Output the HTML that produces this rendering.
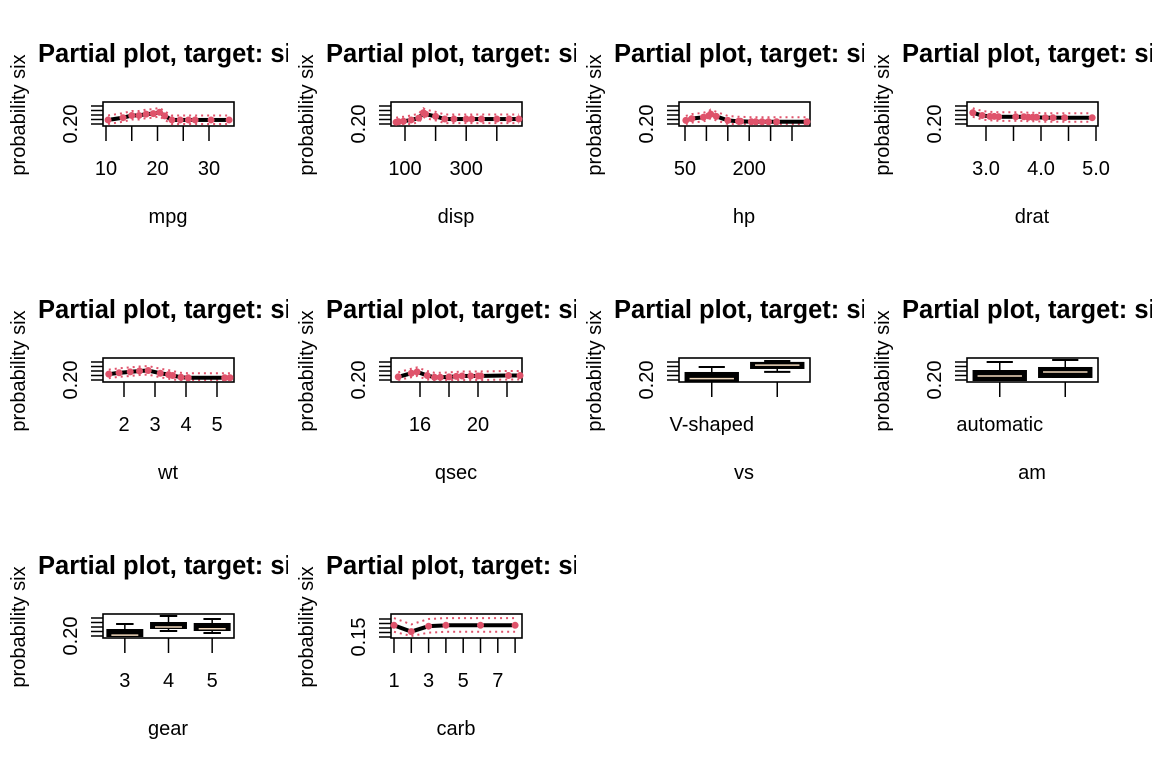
<!DOCTYPE html>
<html><head><meta charset="utf-8"><style>
html,body{margin:0;padding:0;background:#fff;}
svg{display:block;font-family:"Liberation Sans",sans-serif;}
</style></head><body>
<svg id="chart" width="1152" height="768" viewBox="0 0 1152 768"></svg>
<script>
// ---------- data ----------
const mpgX=[10.4,13.3,15,16.4,17.8,19.2,20.4,21.4,22.8,24.4,26,27.3,30.4,33.9];
const mpgY=[0.209,0.214,0.219,0.219,0.222,0.223,0.226,0.218,0.209,0.209,0.209,0.209,0.209,0.209];
const mpgTicks=[10,15,20,25,30];
const mpgLabels=["10","","20","","30"];
const dispX=[71,79,95,120,145,160,167,200,230,260,300,318,350,400,440,472];
const dispY=[0.204,0.205,0.206,0.209,0.213,0.225,0.222,0.217,0.211,0.211,0.211,0.211,0.211,0.211,0.211,0.211];
const dispTicks=[100,200,300,400];
const dispLabels=["100","","300",""];
const hpX=[52,66,93,105,110,123,150,175,180,205,215,230,245,264,335];
const hpY=[0.208,0.212,0.215,0.218,0.222,0.217,0.208,0.206,0.206,0.205,0.205,0.205,0.205,0.205,0.205];
const hpTicks=[50,100,150,200,250,300];
const hpLabels=["50","","","200","",""];
const dratX=[2.76,2.93,3.07,3.15,3.23,3.54,3.69,3.77,3.85,3.92,4.08,4.22,4.43,4.93];
const dratY=[0.225,0.219,0.217,0.217,0.216,0.216,0.216,0.215,0.215,0.215,0.214,0.214,0.214,0.214];
const dratTicks=[3.0,3.5,4.0,4.5,5.0];
const dratLabels=["3.0","","4.0","","5.0"];
const wtX=[1.51,1.84,2.2,2.5,2.78,3.17,3.44,3.57,3.84,4.07,5.25,5.42];
const wtY=[0.213,0.216,0.218,0.22,0.221,0.215,0.212,0.21,0.206,0.205,0.205,0.205];
const wtTicks=[2,3,4,5];
const wtLabels=["2","3","4","5"];
const qsecX=[14.5,15.4,15.8,16.5,17,17.4,18,18.5,18.9,19.5,20,20.2,22.1,22.9];
const qsecY=[0.207,0.215,0.218,0.21,0.206,0.206,0.207,0.208,0.209,0.209,0.209,0.209,0.21,0.21];
const qsecTicks=[16,18,20,22];
const qsecLabels=["16","","20",""];
const carbX=[1,2,3,4,6,8];
const carbY=[0.163,0.156,0.162,0.163,0.163,0.163];
const carbTicks=[1,2,3,4,5,6,7,8];
const carbLabels=["1","","3","","5","","7",""];
// boxplot stats: [low whisker, q1, median, q3, high whisker]
const vsGroups=["V-shaped","straight"];
const vsStats=[[0.198,0.198,0.203,0.2156,0.229],[0.218,0.2267,0.233,0.238,0.2422]];
const amGroups=["automatic","manual"];
const amStats=[[0.20,0.20,0.209,0.22,0.24],[0.2067,0.2067,0.2178,0.2267,0.2444]];
const gearGroups=["3","4","5"];
const gearStats=[[0.20,0.20,0.202,0.2133,0.2267],[0.2111,0.2178,0.22,0.2289,0.2444],[0.2067,0.2133,0.216,0.2267,0.2378]];

// ---------- drawing ----------
const NS="http://www.w3.org/2000/svg";
const svg=document.getElementById('chart');
const RED="#DF536B";
function mk(tag,attrs,parent){const e=document.createElementNS(NS,tag);for(const k in attrs)e.setAttribute(k,attrs[k]);parent.appendChild(e);return e;}
const BL=103,BR=234,BT=102,BB=126;

function panelBase(col,row,name,xtitle,ytickLabel,yscale,ytickVals){
  const ox=col*288, oy=row*256;
  const g=mk('svg',{x:ox,y:oy,width:288,height:256,overflow:'hidden'},svg);
  
  
  const t=mk('text',{x:38,y:62,'font-size':25.5,'font-weight':'bold'},g);
  t.textContent='Partial plot, target: six';
  
  
  const yl=mk('text',{x:0,y:0,'font-size':20,'text-anchor':'middle',transform:'translate(25,115) rotate(-90)'},g);
  yl.textContent='probability six';
  
  
  ytickVals.forEach(v=>{const y=yscale(v);mk('line',{x1:91,x2:BL,y1:y,y2:y,stroke:'#000','stroke-width':1.5},g);});
  const yt=mk('text',{x:0,y:0,'font-size':20,'text-anchor':'middle',transform:`translate(77,${yscale(ytickVals[0])}) rotate(-90)`},g);
  yt.textContent=ytickLabel;
  
  
  const xt=mk('text',{x:168,y:223,'font-size':20,'text-anchor':'middle'},g);
  xt.textContent=xtitle;
  
  
  return g;
}
function frame(g){mk('rect',{x:BL,y:BT,width:BR-BL,height:BB-BT,fill:'none',stroke:'#000','stroke-width':1.6},g);}
function xticks(g,ticks,labels,xs){
  ticks.forEach((v,i)=>{const x=xs(v);mk('line',{x1:x,x2:x,y1:BB,y2:141,stroke:'#000','stroke-width':1.5},g);
    if(labels[i]){const t=mk('text',{x:x,y:175,'font-size':20,'text-anchor':'middle'},g);t.textContent=labels[i];
      
      }});
}
const ys=v=>124-(v-0.20)*450;
const ysCarb=v=>125-(v-0.15)*900;

function linePanel(col,row,name,xs,X,Y,ticks,labels,yscale,ylab,yvals,ci){
  const g=panelBase(col,row,name,name,ylab,yscale,yvals);
  frame(g);
  const hi=X.map((x,i)=>`${xs(x)},${Math.max(BT+2,yscale(Y[i]+ci))}`).join(' ');
  const lo=X.map((x,i)=>`${xs(x)},${Math.min(BB-2,yscale(Y[i]-ci*0.9))}`).join(' ');
  mk('polyline',{points:hi,fill:'none',stroke:RED,'stroke-width':2,'stroke-dasharray':'2,4'},g);
  mk('polyline',{points:lo,fill:'none',stroke:RED,'stroke-width':2,'stroke-dasharray':'2,4'},g);
  for(let i=0;i<X.length-1;i++){
    const x1=xs(X[i]),x2=xs(X[i+1]),y1=yscale(Y[i]),y2=yscale(Y[i+1]);
    const L=Math.hypot(x2-x1,y2-y1); if(L<2)continue;
    const s=Math.min(3,L/4);const dx=(x2-x1)/L*s,dy=(y2-y1)/L*s;
    const seg=mk('line',{x1:x1+dx,y1:y1+dy,x2:x2-dx,y2:y2-dy,stroke:'#000','stroke-width':4},g);
    
    
  }
  X.forEach((x,i)=>{const c=mk('circle',{cx:xs(x),cy:yscale(Y[i]),r:3.5,fill:RED},g);
    
    });
  xticks(g,ticks,labels,xs);
}
function boxPanel(col,row,name,groups,stats,showLabels){
  const g=panelBase(col,row,name,name,'0.20',ys,[0.20,0.21,0.22,0.23,0.24]);
  const n=groups.length, unit=(BR-BL)/n, bw=unit*0.8;
  const xs=i=>BL+unit*(i+0.5);
  stats.forEach((s,i)=>{
    const cx=xs(i);
    const gg=mk('g',{},g);
    
    
    mk('line',{x1:cx,x2:cx,y1:ys(s[0]),y2:ys(s[4]),stroke:'#000','stroke-width':1.5},gg);
    mk('line',{x1:cx-bw/4,x2:cx+bw/4,y1:ys(s[4]),y2:ys(s[4]),stroke:'#000','stroke-width':2},gg);
    mk('line',{x1:cx-bw/4,x2:cx+bw/4,y1:ys(s[0]),y2:ys(s[0]),stroke:'#000','stroke-width':2},gg);
    const t=ys(s[3]),b=ys(s[1]);
    mk('rect',{x:cx-bw/2,y:t,width:bw,height:Math.max(b-t,2),fill:'#000',stroke:'#000','stroke-width':2},gg);
    mk('line',{x1:cx-bw/2+4,x2:cx+bw/2-4,y1:ys(s[2]),y2:ys(s[2]),stroke:'#f2d9bd','stroke-width':1.5},gg);
    mk('line',{x1:cx,x2:cx,y1:BB,y2:141,stroke:'#000','stroke-width':1.5},g);
  });
  frame(g);
  groups.forEach((lab,i)=>{ if(!showLabels[i])return;
    const t=mk('text',{x:xs(i),y:175,'font-size':20,'text-anchor':'middle'},g);t.textContent=lab;
    
    });
}
const Y5=[0.20,0.21,0.22,0.23,0.24];
linePanel(0,0,'mpg',v=>106+(v-10)*5.15,mpgX,mpgY,mpgTicks,mpgLabels,ys,'0.20',Y5,0.01);
linePanel(1,0,'disp',v=>117+(v-100)*0.306,dispX,dispY,dispTicks,dispLabels,ys,'0.20',Y5,0.01);
linePanel(2,0,'hp',v=>109+(v-50)*0.428,hpX,hpY,hpTicks,hpLabels,ys,'0.20',Y5,0.01);
linePanel(3,0,'drat',v=>122+(v-3)*55,dratX,dratY,dratTicks,dratLabels,ys,'0.20',Y5,0.01);
linePanel(0,1,'wt',v=>124+(v-2)*31,wtX,wtY,wtTicks,wtLabels,ys,'0.20',Y5,0.01);
linePanel(1,1,'qsec',v=>132+(v-16)*14.5,qsecX,qsecY,qsecTicks,qsecLabels,ys,'0.20',Y5,0.01);
boxPanel(2,1,'vs',vsGroups,vsStats,[true,false]);
boxPanel(3,1,'am',amGroups,amStats,[true,false]);
boxPanel(0,2,'gear',gearGroups,gearStats,[true,true,true]);
linePanel(1,2,'carb',v=>106+(v-1)*17.3,carbX,carbY,carbTicks,carbLabels,ysCarb,'0.15',[0.15,0.155,0.16,0.165,0.17],0.008);
</script>
</body></html>
